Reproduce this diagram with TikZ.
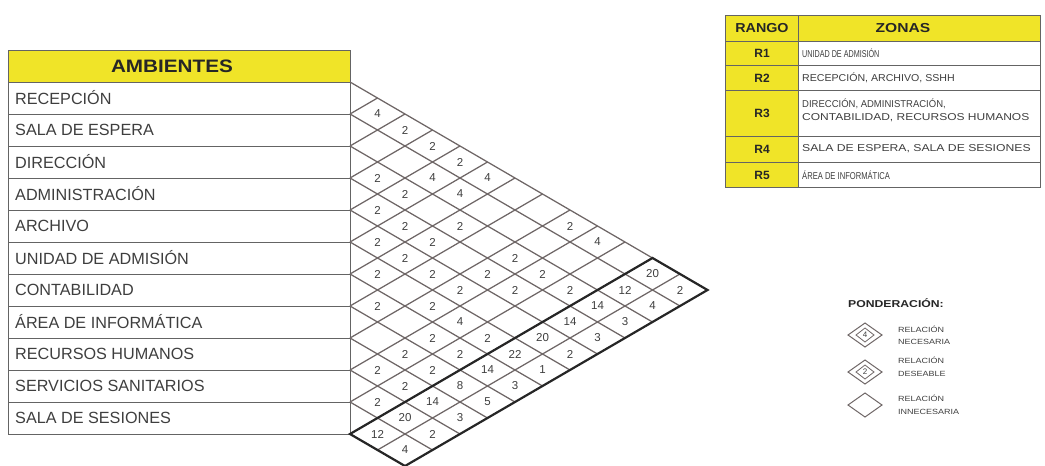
\documentclass[tikz,border=0pt]{standalone}
\usepackage{fontspec}
\setmainfont{Liberation Sans}
\usepackage{graphicx}
\definecolor{ylw}{RGB}{240,228,40}
\definecolor{gridc}{RGB}{110,102,102}
\definecolor{tline}{RGB}{100,100,100}
\definecolor{txt}{RGB}{62,62,62}
\tikzset{
  gridline/.style={draw=gridc, line width=1.25pt},
  tabline/.style={draw=tline, line width=1pt},
  thickline/.style={draw=black!85, line width=2.2pt, line join=miter},
  lab/.style={anchor=west, inner sep=0pt, font=\fontsize{16.2}{18}\selectfont, text=txt},
  num/.style={inner sep=0pt, font=\fontsize{11.5}{13}\selectfont, text=txt},
  hdr/.style={inner sep=0pt, font=\bfseries\fontsize{18}{20}\selectfont, text=black!85},
  rhdr/.style={inner sep=0pt, font=\bfseries\fontsize{13}{15}\selectfont, text=black!85},
  rlab/.style={inner sep=0pt, font=\bfseries\fontsize{12}{14}\selectfont, text=black!85},
  ztxt/.style={anchor=west, inner sep=0pt, font=\fontsize{10}{13}\selectfont, text=txt, align=left},
  ltxt/.style={anchor=west, inner sep=0pt, font=\fontsize{7.5}{13}\selectfont, text=txt, align=left},
}
\begin{document}
\begin{tikzpicture}[x=1pt,y=-1pt]
\useasboundingbox (0,0) rectangle (1045,466);

% ---------- left table ----------
\fill[ylw] (8,50) rectangle (350,82);
\draw[tabline] (8,50) rectangle (350,434);
\foreach \k in {1,...,10} \draw[tabline] (8,{82+32*\k}) -- (350,{82+32*\k});
\draw[tabline] (8,82) -- (350,82);
\node[hdr] (hdr) at (172,66) {\scalebox{1.15}[1]{AMBIENTES}};
\foreach \n/\t in {1/RECEPCIÓN,2/SALA DE ESPERA,3/DIRECCIÓN,4/ADMINISTRACIÓN,5/ARCHIVO,6/UNIDAD DE ADMISIÓN,7/CONTABILIDAD,8/ÁREA DE INFORMÁTICA,9/RECURSOS HUMANOS,10/SERVICIOS SANITARIOS,11/SALA DE SESIONES}
  \node[lab] (a-\n) at (15,{82+32*\n-16}) {\t};

% ---------- matrix grid ----------
\foreach \k in {0,...,11}
  \draw[gridline] (350,{82+32*\k}) -- ({350+(13-\k)*27.5},{82+32*\k+(13-\k)*16});
\foreach \m in {1,...,11}
  \draw[gridline] (350,{82+32*\m}) -- ({350+27.5*\m},{82+16*\m});
\draw[gridline] (377.5,450) -- (680,274);
\draw[thickline] (350,434) -- (652.5,258) -- (707.5,290) -- (405,466) -- cycle;

% ---------- cell values ----------
\foreach \i/\j/\v in {1/2/4,1/3/2,1/4/2,1/5/2,1/6/4,1/9/2,1/10/4,2/5/4,2/6/4,3/4/2,3/5/2,3/7/2,3/9/2,3/10/2,3/11/2,4/5/2,4/6/2,4/7/2,4/9/2,4/10/2,5/6/2,5/7/2,5/8/2,5/9/2,6/7/2,6/9/2,6/10/4,6/11/2,7/8/2,7/10/2,7/11/2,8/10/2,8/11/2,9/10/2,9/11/2,10/11/2}
  \node[num] (c-\i-\j) at ({350+(\j-\i)*27.5},{82+(\i+\j-1)*16}) {\v};
\foreach \k/\t/\r in {1/20/2,2/12/4,3/14/3,4/14/3,5/20/2,6/22/1,7/14/3,8/8/5,9/14/3,10/20/2,11/12/4}
{
  \node[num] (t-\k) at ({350+(12-\k)*27.5},{82+(\k+11)*16}) {\t};
  \node[num] (r-\k) at ({350+(13-\k)*27.5},{82+(\k+12)*16}) {\r};
}

% ---------- right table ----------
\fill[ylw] (725,15) rectangle (1040,41);
\fill[ylw] (725,41) rectangle (798,187);
\draw[tabline] (725,15) rectangle (1040,187);
\draw[tabline] (798,15) -- (798,187);
\foreach \y in {41,65,90,136,162} \draw[tabline] (725,\y) -- (1040,\y);
\node[rhdr] (rango) at (762,28) {\scalebox{1.1}[1]{RANGO}};
\node[rhdr] (zonas) at (903,28) {\scalebox{1.2}[1]{ZONAS}};
\node[rlab] (r1) at (762,53) {R1};
\node[rlab] (r2) at (762,78) {R2};
\node[rlab] (r3) at (762,113) {R3};
\node[rlab] (r4) at (762,149) {R4};
\node[rlab] (r5) at (762,175) {R5};
\node[ztxt] (z1) at (802,53) {\scalebox{0.72}[1]{UNIDAD DE ADMISIÓN}};
\node[ztxt] (z2) at (802,78) {\scalebox{1.06}[1]{RECEPCIÓN, ARCHIVO, SSHH}};
\node[ztxt] (z3a) at (802,104) {\scalebox{0.95}[1]{DIRECCIÓN, ADMINISTRACIÓN,}};
\node[ztxt] (z3b) at (802,118) {\scalebox{1.2}[1]{CONTABILIDAD, RECURSOS HUMANOS}};
\node[ztxt] (z4) at (802,149) {\scalebox{1.22}[1]{SALA DE ESPERA, SALA DE SESIONES}};
\node[ztxt] (z5) at (802,175) {\scalebox{0.76}[1]{ÁREA DE INFORMÁTICA}};

% ---------- legend ----------
\node[inner sep=0pt, font=\bfseries\fontsize{10}{12}\selectfont, text=black!85, anchor=west] (pond) at (848,303) {\scalebox{1.22}[1]{PONDERACIÓN:}};
\foreach \n/\y in {1/335,2/372,3/405}
  \draw[gridline, line width=1pt] (848,\y) -- (865,{\y-12}) -- (882,\y) -- (865,{\y+12}) -- cycle;
\foreach \n/\y in {1/335,2/372}
  \draw[gridline, line width=0.8pt] (856,\y) -- (865,{\y-7}) -- (874,\y) -- (865,{\y+7}) -- cycle;
\node[num, font=\fontsize{8}{10}\selectfont] (l1) at (865,335) {4};
\node[num, font=\fontsize{8}{10}\selectfont] (l2) at (865,372) {2};
\node[ltxt] (lt1a) at (898,329) {\scalebox{1.2}[1]{RELACIÓN}};
\node[ltxt] (lt1b) at (898,342) {\scalebox{1.2}[1]{NECESARIA}};
\node[ltxt] (lt2a) at (898,360) {\scalebox{1.2}[1]{RELACIÓN}};
\node[ltxt] (lt2b) at (898,374) {\scalebox{1.2}[1]{DESEABLE}};
\node[ltxt] (lt3a) at (898,398) {\scalebox{1.2}[1]{RELACIÓN}};
\node[ltxt] (lt3b) at (898,412) {\scalebox{1.2}[1]{INNECESARIA}};
\end{tikzpicture}
\end{document}
